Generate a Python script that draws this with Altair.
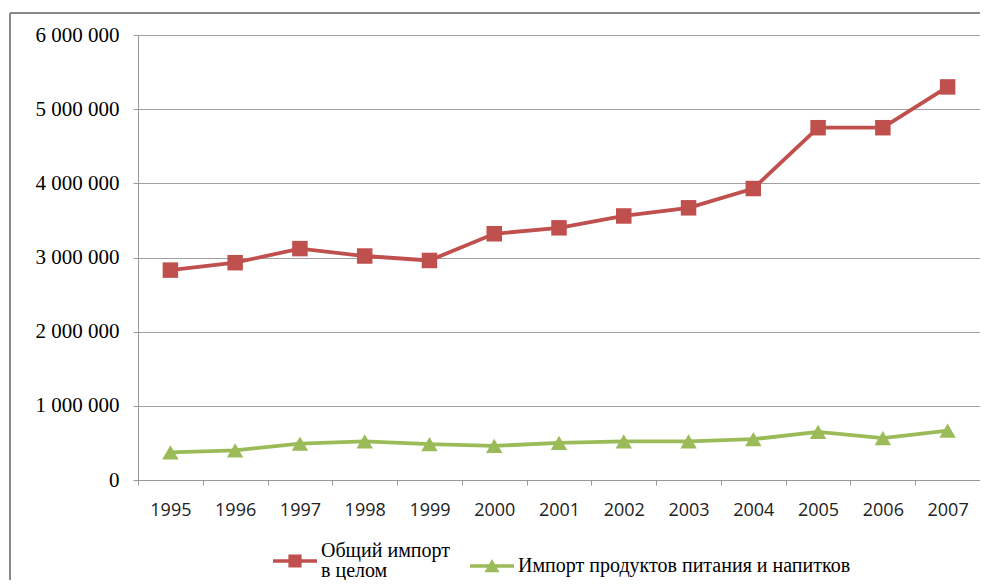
import altair as alt
import pandas as pd

years = [str(y) for y in range(1995, 2008)]
total_import = [2830000, 2930000, 3120000, 3020000, 2960000, 3320000, 3400000,
                3560000, 3670000, 3930000, 4750000, 4750000, 5300000]
food_import = [373000, 400000, 490000, 520000, 485000, 460000, 500000,
               520000, 520000, 550000, 650000, 565000, 665000]
series_names = ["Общий импорт в целом", "Импорт продуктов питания и напитков"]
series_colors = ["#C0504D", "#9BBB59"]
y_ticks = [0, 1000000, 2000000, 3000000, 4000000, 5000000, 6000000]

rows = []
for yr, v in zip(years, total_import):
    rows.append({"year": yr, "value": v, "series": series_names[0]})
for yr, v in zip(years, food_import):
    rows.append({"year": yr, "value": v, "series": series_names[1]})
df = pd.DataFrame(rows)

x_enc = alt.X("year:O", bandPosition=0.5, sort=years,
              scale=alt.Scale(type="band", paddingInner=0, paddingOuter=0),
              axis=alt.Axis(title=None, labelAngle=0, tickBand="extent", tickSize=5,
                            tickColor="#999999", domainColor="#999999",
                            labelFont="Open Sans", labelFontSize=18, labelColor="#222222",
                            labelPadding=16, grid=False))
y_enc = alt.Y("value:Q", scale=alt.Scale(domain=[0, 6000000], nice=False),
              axis=alt.Axis(title=None, values=y_ticks,
                            labelExpr="replace(replace(format(datum.value, ','), ',', ' '), ',', ' ')",
                            labelFont="Liberation Serif", labelFontSize=21, labelColor="black",
                            labelPadding=14, tickSize=5, tickColor="#999999",
                            domainColor="#999999", grid=True, gridColor="#A0A0A0"))

base = alt.Chart(df)
layers = []
shapes = ["square", "triangle-up"]
sizes = [240, 270]
for name, col, shp, sz in zip(series_names, series_colors, shapes, sizes):
    sub = base.transform_filter(alt.datum.series == name)
    layers.append(sub.mark_line(color=col, strokeWidth=3.8).encode(x=x_enc, y=y_enc))
for name, col, shp, sz in zip(series_names, series_colors, shapes, sizes):
    sub = base.transform_filter(alt.datum.series == name)
    layers.append(sub.mark_point(shape=shp, filled=True, color=col, opacity=1, size=sz,
                                 strokeWidth=0).encode(x=x_enc, y=y_enc))

sym_red = "M-1,-0.08H1V0.08H-1Z M-0.3,-0.3H0.3V0.3H-0.3Z"
sym_green = "M-1,-0.08H1V0.08H-1Z M-0.34,0.28L0,-0.32L0.34,0.28Z"

legend_layer = base.transform_filter("false").mark_point(filled=True, opacity=1).encode(
    x=x_enc, y=y_enc,
    color=alt.Color("series:N", scale=alt.Scale(domain=series_names, range=series_colors),
                    legend=alt.Legend(title=None, orient="none", legendX=135, legendY=504,
                                      direction="horizontal", columnPadding=20,
                                      labelFont="Liberation Serif", labelFontSize=20,
                                      labelColor="black", labelLimit=600, labelOffset=4,
                                      symbolSize=1936, symbolStrokeWidth=0,
                                      labelBaseline={"expr": "datum.value == 'Общий импорт в целом' ? 'bottom' : 'middle'"},
                                      labelExpr="datum.label == 'Общий импорт в целом' ? ['Общий импорт', 'в целом'] : datum.label")),
    shape=alt.Shape("series:N", scale=alt.Scale(domain=series_names, range=[sym_red, sym_green])),
)

frame = alt.Chart(pd.DataFrame({"a": [0]}))
left_border = frame.mark_rule(color="#888888", strokeWidth=2).encode(
    x=alt.value(-128), y=alt.value(-22), y2=alt.value(700))
top_border = frame.mark_rule(color="#888888", strokeWidth=2).encode(
    x=alt.value(-128), x2=alt.value(900), y=alt.value(-22))

chart = alt.layer(left_border, top_border, *layers, legend_layer).properties(
    width=842, height=445,
    autosize=alt.AutoSizeParams(type="none"),
    padding={"left": 130, "top": 27, "right": 0, "bottom": 100},
).configure(background="white", style={"guide-label": {"lineHeight": 20}}).configure_view(stroke=None)

chart.save("out.html", embed_options={"renderer": "svg", "actions": False})
